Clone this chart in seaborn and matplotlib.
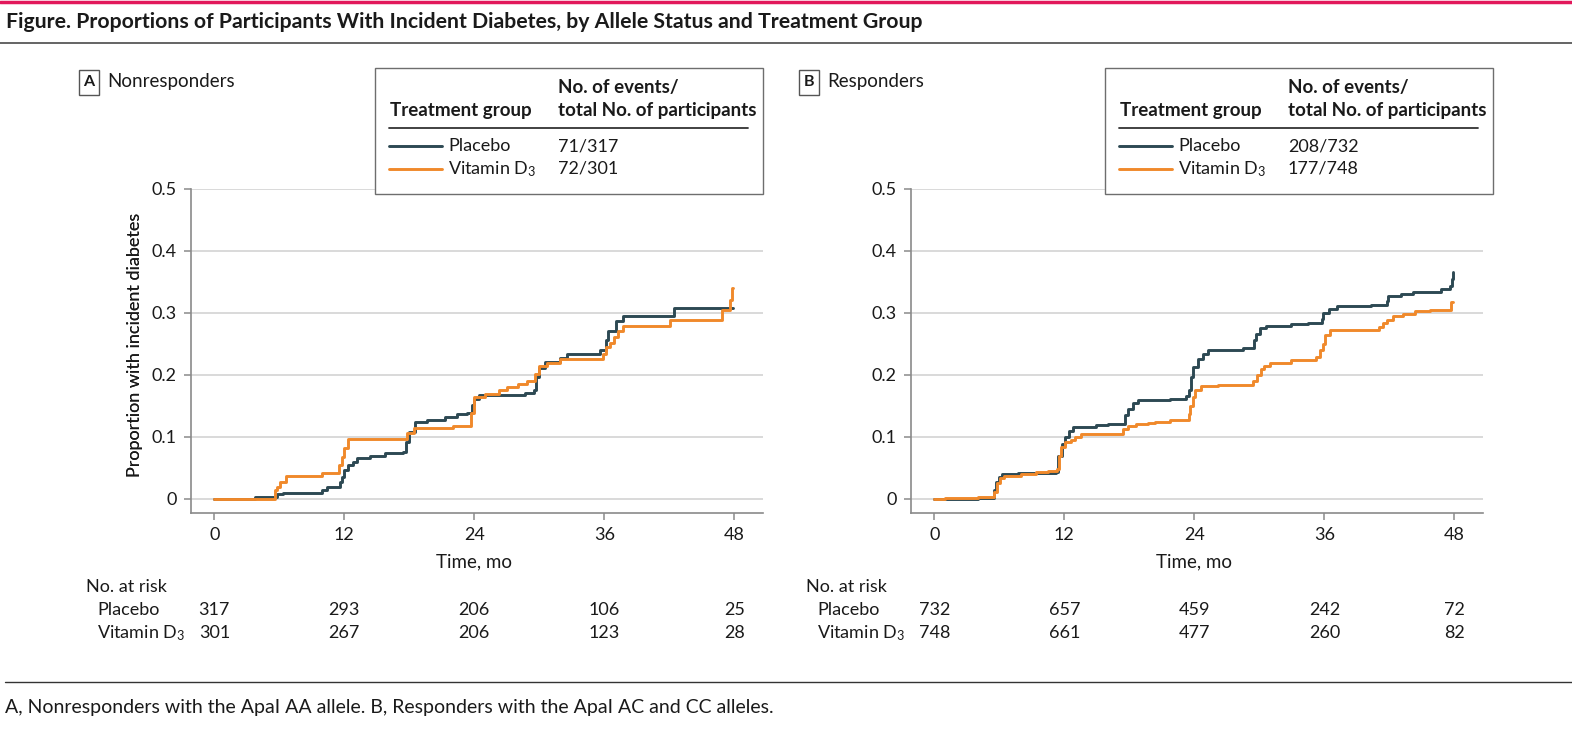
import numpy as np
import pandas as pd
import matplotlib.pyplot as plt
import matplotlib.transforms as mtransforms
from matplotlib.patches import Rectangle
from matplotlib.lines import Line2D
import seaborn as sns

# ----------------------------
# DATA
# ----------------------------

# Panel A - Nonresponders
a_placebo_t = [0, 3.8, 5.8, 6.3, 9.9, 10.4, 11.6, 11.8, 12.0, 12.3, 12.8, 13.2, 14.4, 15.8, 17.4,
               17.7, 18.0, 18.5, 19.6, 21.3, 22.4, 23.3, 23.8, 24.0, 24.4, 28.7, 29.5, 29.7, 30.0,
               30.5, 31.9, 32.6, 35.6, 36.2, 36.3, 37.1, 37.7, 42.4, 47.9]
a_placebo_p = [0, 0.003, 0.0075, 0.0097, 0.0145, 0.020, 0.028, 0.036, 0.047, 0.055, 0.060, 0.0655,
               0.069, 0.0735, 0.076, 0.092, 0.108, 0.1235, 0.127, 0.1315, 0.137, 0.139, 0.151, 0.162,
               0.1675, 0.171, 0.1755, 0.197, 0.2105, 0.221, 0.228, 0.2335, 0.240, 0.256, 0.2705,
               0.2866, 0.2952, 0.308, 0.308]

a_vitd_t = [0, 5.6, 5.8, 6.1, 6.6, 9.9, 11.5, 11.8, 12.0, 12.3, 17.8, 18.4, 22.0, 23.7, 24.0, 25.0,
            26.3, 27.0, 28.0, 28.9, 29.6, 30.0, 30.7, 31.9, 35.9, 36.2, 36.5, 36.9, 37.3, 37.7,
            42.1, 46.9, 47.6, 47.8, 47.9]
a_vitd_p = [0, 0.0145, 0.020, 0.028, 0.037, 0.0413, 0.0548, 0.068, 0.0816, 0.096, 0.106, 0.1138,
            0.118, 0.138, 0.1637, 0.170, 0.1755, 0.180, 0.185, 0.1906, 0.2024, 0.214, 0.2195, 0.2254,
            0.2346, 0.2453, 0.2517, 0.2614, 0.271, 0.2786, 0.2893, 0.3054, 0.3215, 0.3409, 0.3409]

# Panel B - Responders
b_placebo_t = [0, 4.0, 5.5, 5.7, 6.0, 6.25, 7.7, 11.2, 11.4, 11.8, 12.1, 12.4, 12.8, 14.9, 16.0,
               17.6, 17.9, 18.3, 18.8, 21.8, 23.2, 23.5, 23.7, 23.9, 24.3, 24.8, 25.3, 28.5, 29.5,
               29.7, 30.1, 30.6, 32.9, 34.5, 35.75, 35.9, 36.45, 37.2, 40.3, 41.75, 41.9, 43.1,
               44.2, 46.8, 47.6, 47.75, 47.85, 47.9]
b_placebo_p = [0, 0.002, 0.0145, 0.0279, 0.0359, 0.0402, 0.0418, 0.044, 0.0697, 0.0895, 0.1003, 0.110,
               0.1164, 0.119, 0.1206, 0.1351, 0.1448, 0.155, 0.1598, 0.162, 0.1657, 0.1753, 0.1968,
               0.2129, 0.2252, 0.2343, 0.2408, 0.2434, 0.2558, 0.2665, 0.2751, 0.2788, 0.2815, 0.2836,
               0.2906, 0.2997, 0.3067, 0.311, 0.3137, 0.3201, 0.3271, 0.3308, 0.334, 0.3389, 0.3442,
               0.355, 0.3657, 0.3657]

b_vitd_t = [0, 0.95, 4.0, 5.55, 5.8, 6.1, 6.4, 8.0, 9.4, 10.5, 11.3, 11.5, 11.7, 12.1, 12.6, 13.0,
            13.5, 17.45, 17.9, 18.6, 19.7, 20.4, 21.8, 23.5, 23.6, 23.85, 24.1, 24.6, 26.2, 29.4,
            29.75, 30.2, 30.45, 31.0, 32.9, 35.2, 35.6, 35.85, 36.1, 36.55, 41.05, 41.4, 41.75,
            42.3, 43.3, 44.4, 45.8, 47.65, 47.9]
b_vitd_p = [0, 0.0011, 0.0027, 0.0118, 0.0252, 0.0343, 0.0375, 0.0408, 0.0429, 0.0445, 0.0477,
            0.0697, 0.0842, 0.0912, 0.0949, 0.1003, 0.1051, 0.1131, 0.118, 0.1206, 0.1228, 0.1244,
            0.1282, 0.1378, 0.1501, 0.1646, 0.1753, 0.1823, 0.1845, 0.1903, 0.200, 0.2102, 0.215,
            0.2188, 0.2236, 0.229, 0.2397, 0.2504, 0.2638, 0.2729, 0.2772, 0.2836, 0.2895, 0.2944,
            0.2987, 0.303, 0.3051, 0.318, 0.318]

risk_times = [0, 12, 24, 36, 48]
a_risk_placebo = [317, 293, 206, 106, 25]
a_risk_vitd = [301, 267, 206, 123, 28]
b_risk_placebo = [732, 657, 459, 242, 72]
b_risk_vitd = [748, 661, 477, 260, 82]

a_events = ["71/317", "72/301"]
b_events = ["208/732", "177/748"]

groups = ["Placebo", "Vitamin D$_{3}$"]
xticks = [0, 12, 24, 36, 48]
yticks = [0, 0.1, 0.2, 0.3, 0.4, 0.5]
ytick_labels = ["0", "0.1", "0.2", "0.3", "0.4", "0.5"]

title = "Figure. Proportions of Participants With Incident Diabetes, by Allele Status and Treatment Group"
footer = "A, Nonresponders with the ApaI AA allele. B, Responders with the ApaI AC and CC alleles."

# ----------------------------
# STYLE
# ----------------------------

sns.set_theme(style="white")
FONT = "Lato"
plt.rcParams["font.family"] = [FONT, "DejaVu Sans"]
plt.rcParams["mathtext.fontset"] = "custom"
plt.rcParams["mathtext.rm"] = FONT
plt.rcParams["mathtext.it"] = FONT + ":italic"
plt.rcParams["mathtext.bf"] = FONT + ":bold"

DARK = "#2D4953"
ORANGE = "#F0892B"
AXCOL = "#8A8A8A"
GRID = "#D9D9D9"
TXT = "#1A1A1A"

W, H = 1572, 732


def fx(px):
    return px / W


def fy(py):
    return 1 - py / H


fig = plt.figure(figsize=(W / 100, H / 100), dpi=100)

# header / footer rules
fig.add_artist(Line2D([0, 1], [fy(1.5), fy(1.5)], color="#E2185B", lw=2.5))
fig.text(fx(6), fy(22), title, fontsize=15.3, fontweight="bold", va="center", color=TXT)
fig.add_artist(Line2D([0, 1], [fy(43), fy(43)], color="#4A4A4A", lw=1.2))
fig.add_artist(Line2D([fx(5), 1], [fy(681.5), fy(681.5)], color="#333333", lw=1.0))
fig.text(fx(5), fy(708), footer, fontsize=14, va="center", color=TXT)

# ----------------------------
# PANELS
# ----------------------------

panels = [
    dict(letter="A", name="Nonresponders", left=190.7, dx=0,
         series=[(a_placebo_t, a_placebo_p), (a_vitd_t, a_vitd_p)],
         risk=[a_risk_placebo, a_risk_vitd], events=a_events),
    dict(letter="B", name="Responders", left=910.7, dx=720,
         series=[(b_placebo_t, b_placebo_p), (b_vitd_t, b_vitd_p)],
         risk=[b_risk_placebo, b_risk_vitd], events=b_events),
]

ax_w = 571.8
ax_top, ax_bot = 189, 513

for pnl in panels:
    ax = fig.add_axes([fx(pnl["left"]), fy(ax_bot), ax_w / W, (ax_bot - ax_top) / H])
    for (t, p), col in zip(pnl["series"], [DARK, ORANGE]):
        df = pd.DataFrame({"t": t, "p": p})
        sns.lineplot(data=df, x="t", y="p", ax=ax, color=col, lw=2.1,
                     drawstyle="steps-post", estimator=None, sort=False, zorder=3)

    ax.set_xlim(-2.18, 50.6)
    ax.set_ylim(-0.0226, 0.5)
    ax.set_xticks(xticks)
    ax.set_xticklabels([str(x) for x in xticks])
    ax.set_yticks(yticks)
    ax.set_yticklabels(ytick_labels)
    ax.yaxis.grid(True, color=GRID, lw=1.4)
    ax.xaxis.grid(False)
    for s in ["top", "right"]:
        ax.spines[s].set_visible(False)
    for s in ["left", "bottom"]:
        ax.spines[s].set_color(AXCOL)
        ax.spines[s].set_linewidth(1.2)
    ax.tick_params(axis="both", direction="out", length=5, width=1.1, color=AXCOL,
                   labelsize=13, labelcolor=TXT, pad=5, left=True, bottom=True)
    ax.set_ylabel("Proportion with incident diabetes", fontsize=13, color=TXT, va="center")
    ax.yaxis.set_label_coords((135 - pnl["left"]) / ax_w, 0.52)
    ax.set_xlabel("Time, mo", fontsize=13.5, color=TXT, va="center")
    ax.xaxis.set_label_coords(0.496, -(562 - ax_bot) / (ax_bot - ax_top))

    # number at risk table
    trans = mtransforms.blended_transform_factory(ax.transData, fig.transFigure)
    dx = pnl["dx"]
    fig.text(fx(86 + dx), fy(587), "No. at risk", fontsize=13, va="center", color=TXT)
    for row, (lab, yy) in enumerate(zip(groups, [610, 633])):
        fig.text(fx(97 + dx), fy(yy), lab, fontsize=13, va="center", color=TXT)
        for tt, n in zip(risk_times, pnl["risk"][row]):
            ax.text(tt, fy(yy), str(n), transform=trans, fontsize=13,
                    ha="center", va="center", color=TXT)

    # panel letter
    fig.add_artist(Rectangle((fx(79 + dx), fy(95)), 20 / W, 25 / H, transform=fig.transFigure,
                             fill=False, ec="#555555", lw=1.0))
    fig.text(fx(89 + dx), fy(82.5), pnl["letter"], fontsize=11.5, fontweight="bold",
             ha="center", va="center", color=TXT)
    fig.text(fx(107 + dx), fy(81), pnl["name"], fontsize=13.5, va="center", color=TXT)

    # legend table
    lx = 375 + (730 if dx else 0)
    fig.add_artist(Rectangle((fx(lx), fy(194)), 388 / W, (194 - 67.7) / H,
                             transform=fig.transFigure, fc="white", ec="#6E6E6E", lw=1.0, zorder=5))
    fig.text(fx(lx + 15), fy(110.7), "Treatment group", fontsize=13.5, fontweight="bold",
             va="center", color=TXT, zorder=6)
    fig.text(fx(lx + 183), fy(87.7), "No. of events/", fontsize=13.5, fontweight="bold",
             va="center", color=TXT, zorder=6)
    fig.text(fx(lx + 183), fy(110.7), "total No. of participants", fontsize=13.5, fontweight="bold",
             va="center", color=TXT, zorder=6)
    fig.add_artist(Line2D([fx(lx + 14), fx(lx + 373)], [fy(127.7), fy(127.7)],
                          color="#333333", lw=1.3, zorder=6))
    for lab, ev, col, yy in zip(groups, pnl["events"], [DARK, ORANGE], [146, 169]):
        fig.add_artist(Line2D([fx(lx + 14), fx(lx + 67)], [fy(yy), fy(yy)],
                              color=col, lw=2.1, zorder=6))
        fig.text(fx(lx + 73), fy(yy), lab, fontsize=13, va="center", color=TXT, zorder=6)
        fig.text(fx(lx + 183), fy(yy), ev, fontsize=13, va="center", color=TXT, zorder=6)

fig.savefig("out.png", dpi=100, facecolor="white")
